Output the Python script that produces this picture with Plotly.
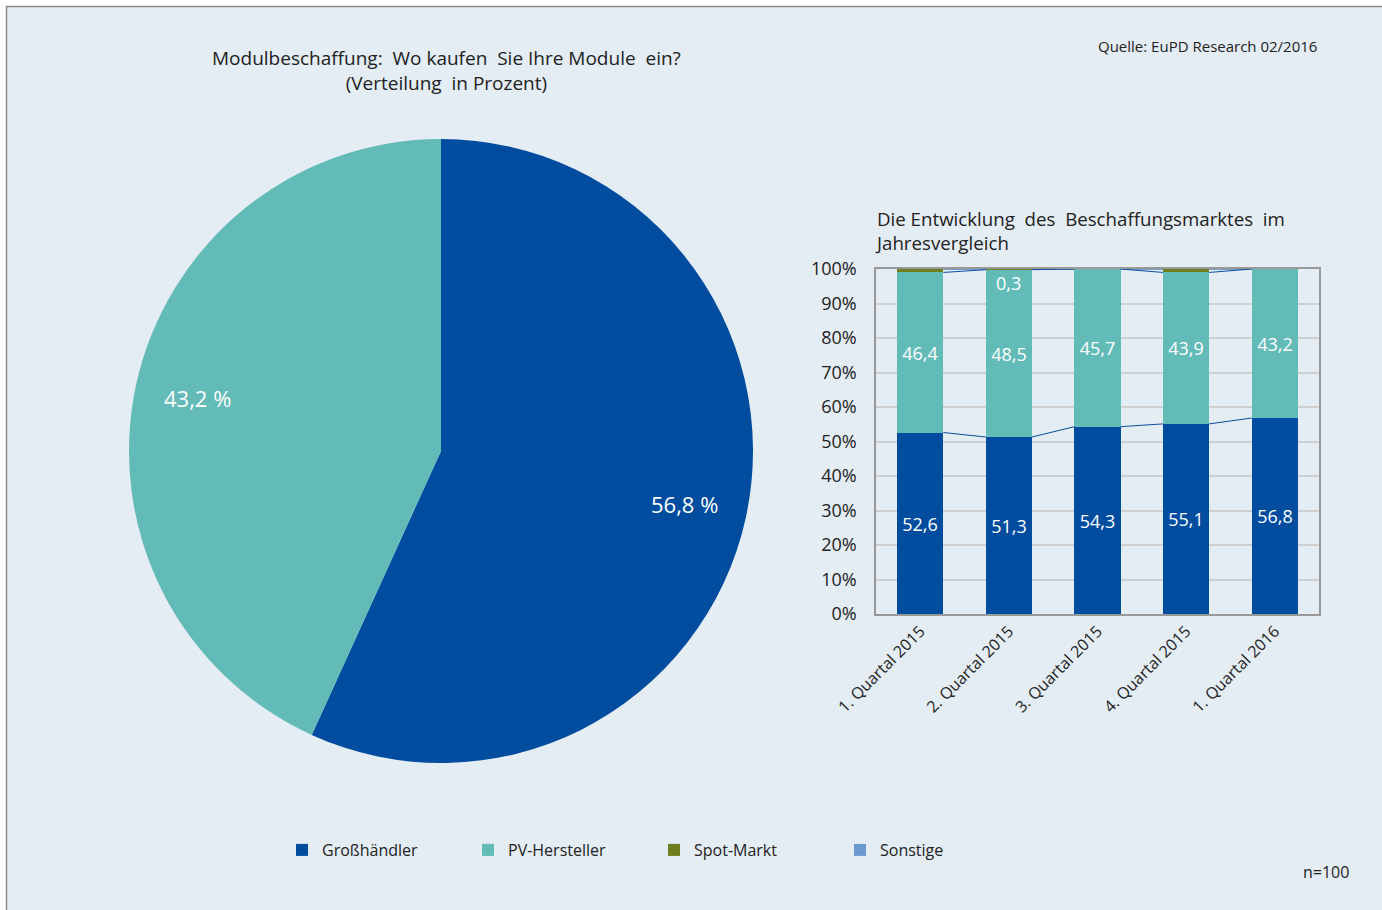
import math
import plotly.graph_objects as go

# ---------------- data ----------------
pie_labels = ["Großhändler", "PV-Hersteller"]
pie_values = [56.8, 43.2]

quarters = ["1. Quartal 2015", "2. Quartal 2015", "3. Quartal 2015", "4. Quartal 2015", "1. Quartal 2016"]
grosshaendler = [52.6, 51.3, 54.3, 55.1, 56.8]
pv_hersteller = [46.4, 48.5, 45.7, 43.9, 43.2]
spot_markt = [1.0, 0.3, 0.0, 1.0, 0.0]
sonstige = [0.0, 0.0, 0.0, 0.0, 0.0]
spot_label_shown = [False, True, False, False, False]

y_ticks = [0, 10, 20, 30, 40, 50, 60, 70, 80, 90, 100]

# ---------------- styles ----------------
C_GH = "#004C9F"
C_PV = "#62BBB7"
C_SPOT = "#6E7F1F"
C_SONST = "#6A9AD0"
BG = "#E4ECF4"
FONT = "Open Sans"
TXT = "#222222"
W = 1382
H = 910
BAR_W = 0.52

# pie geometry (pixels)
PIE_CX, PIE_CY, PIE_R = 441, 451, 312
LABEL_R = 0.8

fig = go.Figure()

fig.add_trace(go.Pie(
    labels=pie_labels, values=pie_values, sort=False, direction="clockwise",
    rotation=0, marker=dict(colors=[C_GH, C_PV], line=dict(width=0)),
    textinfo="none", showlegend=False, hoverinfo="skip",
    domain=dict(x=[(PIE_CX - PIE_R) / W, (PIE_CX + PIE_R) / W],
                y=[1 - (PIE_CY + PIE_R) / H, 1 - (PIE_CY - PIE_R) / H]),
))

x_idx = list(range(len(quarters)))

for name, vals, col, show_text in [
    ("Großhändler", grosshaendler, C_GH, True),
    ("PV-Hersteller", pv_hersteller, C_PV, True),
    ("Spot-Markt", spot_markt, C_SPOT, False),
    ("Sonstige", sonstige, C_SONST, False),
]:
    fig.add_trace(go.Bar(
        x=x_idx, y=vals, name=name, marker=dict(color=col, line=dict(width=0)),
        width=BAR_W, texttemplate="%{y:.1f}" if show_text else None,
        textposition="inside" if show_text else "none", insidetextanchor="middle",
        textfont=dict(color="white", size=18, family=FONT),
        xaxis="x", yaxis="y", hoverinfo="skip",
    ))

# series lines between bars
c1 = grosshaendler
c2 = [a + b for a, b in zip(grosshaendler, pv_hersteller)]
c3 = [a + b + c for a, b, c in zip(grosshaendler, pv_hersteller, spot_markt)]
for lev in [c1, c2, c3]:
    xs, ys = [], []
    for i in range(len(lev) - 1):
        xs += [x_idx[i] + BAR_W / 2, x_idx[i + 1] - BAR_W / 2, None]
        ys += [min(lev[i], 100), min(lev[i + 1], 100), None]
    fig.add_trace(go.Scatter(x=xs, y=ys, mode="lines", line=dict(color="#0B4EA2", width=1),
                             showlegend=False, hoverinfo="skip", xaxis="x", yaxis="y"))

annotations = []
for i, shown in enumerate(spot_label_shown):
    if shown:
        annotations.append(dict(x=x_idx[i], y=min(c3[i], 100), xref="x", yref="y",
                                text=f"{spot_markt[i]:.1f}".replace(".", ","),
                                showarrow=False, yanchor="top", yshift=0,
                                font=dict(color="white", size=18, family=FONT)))

# pie labels at mid-angle of each slice
total = sum(pie_values)
cum = 0.0
for lab, v in zip(pie_labels, pie_values):
    mid = (cum + v / 2) / total * 2 * math.pi  # clockwise from 12 o'clock
    cum += v
    px = PIE_CX + LABEL_R * PIE_R * math.sin(mid)
    py = PIE_CY - LABEL_R * PIE_R * math.cos(mid)
    annotations.append(dict(x=px / W, y=1 - py / H, xref="paper", yref="paper", showarrow=False,
                            text=f"{v:.1f}".replace(".", ",") + " %",
                            font=dict(color="white", size=22, family=FONT),
                            xanchor="center", yanchor="middle"))

annotations += [
    dict(x=446 / W, y=1 - 71 / H, xref="paper", yref="paper", showarrow=False,
         text="Modulbeschaffung:  Wo kaufen  Sie Ihre Module  ein?<br>(Verteilung  in Prozent)",
         font=dict(size=19, color=TXT, family=FONT), xanchor="center", yanchor="middle", align="center"),
    dict(x=873 / W, y=1 - 230 / H, xref="paper", yref="paper", showarrow=False,
         text="Die Entwicklung  des  Beschaffungsmarktes  im<br>Jahresvergleich",
         font=dict(size=18.7, color=TXT, family=FONT), xanchor="left", yanchor="middle", align="left"),
    dict(x=1319 / W, y=1 - 46 / H, xref="paper", yref="paper", showarrow=False,
         text="Quelle: EuPD Research 02/2016",
         font=dict(size=15, color=TXT, family=FONT), xanchor="right", yanchor="middle"),
    dict(x=1351 / W, y=1 - 872 / H, xref="paper", yref="paper", showarrow=False,
         text="n=100",
         font=dict(size=16, color=TXT, family=FONT), xanchor="right", yanchor="middle"),
]

fig.update_layout(
    template="none",
    width=W, height=H, margin=dict(l=0, r=0, t=0, b=0, pad=0), autosize=False,
    paper_bgcolor="white", plot_bgcolor="white",
    separators=",.", barmode="stack", bargap=0,
    font=dict(family=FONT, color=TXT),
    xaxis=dict(domain=[876 / W, 1319 / W], range=[-0.5, 4.5], tickmode="array",
               tickvals=x_idx, ticktext=quarters, automargin=False,
               tickangle=-45, tickfont=dict(size=16, color=TXT, family=FONT),
               showgrid=False, zeroline=False, showline=True, linecolor="#999999", linewidth=1.5,
               mirror=True, ticks="", fixedrange=True),
    yaxis=dict(domain=[1 - 614 / H, 1 - 269 / H], range=[0, 100], tickmode="array",
               tickvals=y_ticks, ticktext=[f"{t}%" for t in y_ticks], automargin=False,
               tickfont=dict(size=18, color=TXT, family=FONT),
               gridcolor="#CFCFCF", gridwidth=1.5, zeroline=False, showline=True,
               linecolor="#999999", linewidth=1.5, mirror=True, ticks="",
               ticklabelstandoff=14, fixedrange=True),
    legend=dict(orientation="h", x=282 / W, y=1 - 850 / H, xanchor="left", yanchor="middle",
                font=dict(size=16, color=TXT, family=FONT), bgcolor="rgba(0,0,0,0)",
                entrywidth=141, entrywidthmode="pixels", traceorder="normal"),
    annotations=annotations,
    shapes=[dict(type="rect", xref="paper", yref="paper", x0=6.5 / W, x1=1.02, y0=-0.02, y1=1 - 6.5 / H,
                 fillcolor=BG, line=dict(color="#8C8C8C", width=1.5), layer="below")],
)

fig.write_html("out.html")
